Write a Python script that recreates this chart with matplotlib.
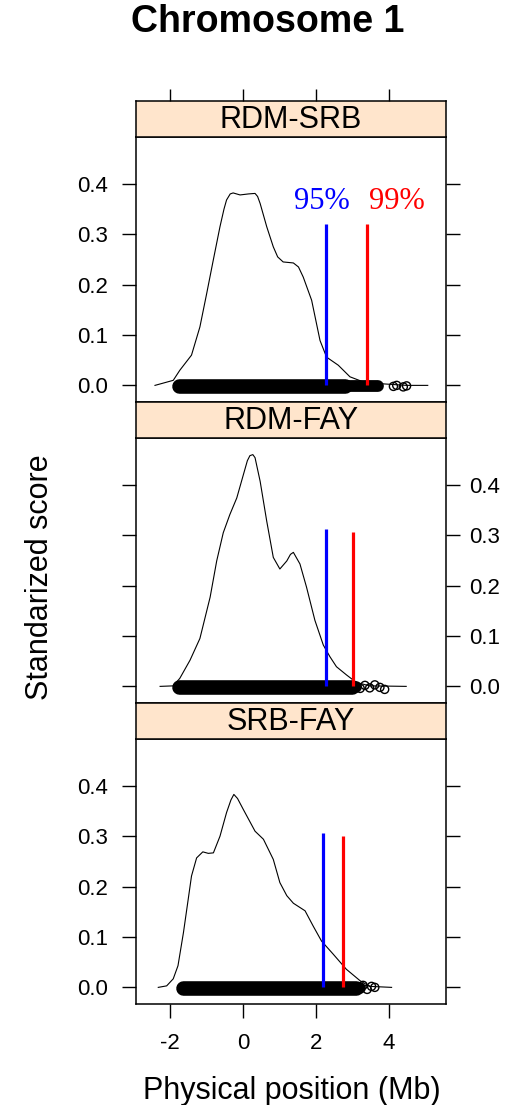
import numpy as np
import matplotlib
matplotlib.use("Agg")
import matplotlib.pyplot as plt

plt.rcParams["font.family"] = ["Liberation Sans", "DejaVu Sans"]

# Paneles (de arriba a abajo)
paineis = ["RDM-SRB", "RDM-FAY", "SRB-FAY"]

# Curvas de densidade
dens_x = [
    [-2.41, -1.91, -1.73, -1.41, -1.18, -0.995, -0.81, -0.63, -0.52, -0.45, -0.35,
     -0.27, -0.08, 0.15, 0.33, 0.40, 0.47, 0.65, 0.83, 0.95, 1.10, 1.38, 1.52,
     1.65, 1.88, 2.11, 2.29, 2.61, 2.93, 3.29, 3.84, 4.48, 5.06],
    [-2.27, -1.91, -1.73, -1.45, -1.18, -0.90, -0.72, -0.54, -0.36, -0.17, 0.01,
     0.12, 0.19, 0.27, 0.33, 0.47, 0.65, 0.83, 1.01, 1.20, 1.30, 1.38, 1.56, 1.74,
     1.97, 2.20, 2.38, 2.56, 2.83, 3.10, 3.47, 4.47],
    [-2.32, -2.09, -1.91, -1.78, -1.63, -1.50, -1.41, -1.27, -1.10, -0.95, -0.81,
     -0.63, -0.45, -0.33, -0.25, -0.15, 0.01, 0.33, 0.56, 0.83, 1.01, 1.20, 1.38,
     1.70, 1.92, 2.15, 2.47, 2.83, 3.21, 3.47, 4.07],
]
dens_y = [
    [0.0, 0.01, 0.03, 0.06, 0.116, 0.182, 0.25, 0.315, 0.350, 0.368, 0.380,
     0.382, 0.378, 0.38, 0.381, 0.375, 0.361, 0.315, 0.275, 0.255, 0.245, 0.243,
     0.235, 0.215, 0.169, 0.089, 0.056, 0.04, 0.017, 0.007, 0.003, 0.0, 0.0],
    [0.0, 0.001, 0.016, 0.052, 0.095, 0.177, 0.249, 0.305, 0.341, 0.374, 0.42,
     0.448, 0.458, 0.460, 0.454, 0.407, 0.328, 0.256, 0.233, 0.249, 0.262, 0.266,
     0.243, 0.197, 0.131, 0.082, 0.059, 0.039, 0.023, 0.008, 0.001, 0.0],
    [0.0, 0.003, 0.017, 0.043, 0.109, 0.175, 0.221, 0.257, 0.269, 0.266, 0.267,
     0.30, 0.347, 0.372, 0.383, 0.375, 0.353, 0.31, 0.294, 0.254, 0.208, 0.182,
     0.167, 0.152, 0.122, 0.092, 0.066, 0.036, 0.013, 0.002, 0.0],
]

# Faixa densa de pontos (rug), cauda menos densa e pontos isolados
rug_inicio = [-1.74, -1.74, -1.65]
rug_fim = [2.80, 2.98, 3.09]
cauda_fim = [3.70, 3.10, 3.21]
pontos_x = [
    [4.12, 4.21, 4.39, 4.48],
    [3.21, 3.34, 3.47, 3.61, 3.75, 3.88],
    [3.29, 3.40, 3.52, 3.61],
]
pontos_y = [
    [-0.002, 0.0, -0.003, -0.001],
    [-0.004, 0.002, -0.003, 0.003, -0.002, -0.006],
    [0.004, -0.004, 0.002, 0.0],
]

# Limiares 95% e 99%
corte95 = [2.27, 2.27, 2.20]
corte99 = [3.41, 3.02, 2.73]
topo95 = [0.32, 0.312, 0.306]
topo99 = [0.32, 0.307, 0.300]

xticks = [-2, 0, 2, 4]
yticks = [0.0, 0.1, 0.2, 0.3, 0.4]

W, H = 510, 1105
fig = plt.figure(figsize=(W / 100, H / 100), dpi=100)

esq, larg = 136 / W, 310 / W
topos_painel = [137, 438, 739]
alt_painel = 265
alt_strip = 36

lw_frame = 1.1
tick_len = 10

for i, nome in enumerate(paineis):
    t = topos_painel[i]
    ax = fig.add_axes([esq, 1 - (t + alt_painel) / H, larg, alt_painel / H])
    st = fig.add_axes([esq, 1 - t / H, larg, alt_strip / H])

    ax.set_xlim(-2.93, 5.56)
    ax.set_ylim(-0.033, 0.493)
    st.set_xlim(-2.93, 5.56)

    # curva de densidade
    ax.plot(dens_x[i], dens_y[i], color="black", lw=0.8, zorder=3)

    # faixa densa do rug (pontas arredondadas como os circulos)
    ax.plot([rug_inicio[i], rug_fim[i]], [-0.001, -0.001], color="black",
            lw=10.5, solid_capstyle="round", zorder=2)
    ax.plot([rug_inicio[i], cauda_fim[i]], [-0.001, -0.001], color="black",
            lw=8.5, solid_capstyle="round", zorder=2)
    ax.scatter(pontos_x[i], pontos_y[i], s=34, facecolors="none",
               edgecolors="black", linewidths=1.0, zorder=2)

    # linhas de corte
    ax.vlines(corte95[i], 0, topo95[i], color="blue", lw=2.3, zorder=4)
    ax.vlines(corte99[i], 0, topo99[i], color="red", lw=2.3, zorder=4)

    if i == 0:
        ax.text(2.17, 0.364, "95%", color="blue", fontsize=22,
                family=["Liberation Serif", "DejaVu Serif"], ha="center", va="center")
        ax.text(4.21, 0.364, "99%", color="red", fontsize=22,
                family=["Liberation Serif", "DejaVu Serif"], ha="center", va="center")

    for sp in ax.spines.values():
        sp.set_linewidth(lw_frame)
    for sp in st.spines.values():
        sp.set_linewidth(lw_frame)

    ax.set_yticks(yticks)
    ax.set_yticklabels([f"{v:.1f}" for v in yticks])
    lado_esq = i != 1
    ax.tick_params(axis="y", direction="out", length=tick_len, width=1.0,
                   left=True, right=True, labelleft=lado_esq,
                   labelright=not lado_esq, labelsize=16,
                   pad=10 if lado_esq else 7)

    ax.set_xticks(xticks)
    if i == 2:
        ax.set_xticklabels([str(v) for v in xticks])
        ax.tick_params(axis="x", direction="out", length=tick_len, width=1.0,
                       labelsize=16, pad=11)
    else:
        ax.tick_params(axis="x", bottom=False, labelbottom=False)

    st.set_facecolor("#ffe5cc")
    st.set_yticks([])
    if i == 0:
        st.set_xticks(xticks)
        st.tick_params(axis="x", direction="out", length=9, width=1.0,
                       top=True, bottom=False, labeltop=False, labelbottom=False)
    else:
        st.set_xticks([])
    st.text(0.5, 0.47, nome, transform=st.transAxes, ha="center", va="center",
            fontsize=22)

fig.text(268 / W, 1 - 22 / H, "Chromosome 1", ha="center", va="center",
         fontsize=27, fontweight="bold")
fig.text(40 / W, 1 - 577 / H, "Standarized score", ha="center", va="center",
         rotation=90, fontsize=22)
fig.text(292 / W, 1 - 1099 / H, "Physical position (Mb)", ha="center",
         va="baseline", fontsize=22)

fig.savefig("out.png", dpi=100)
plt.close(fig)
